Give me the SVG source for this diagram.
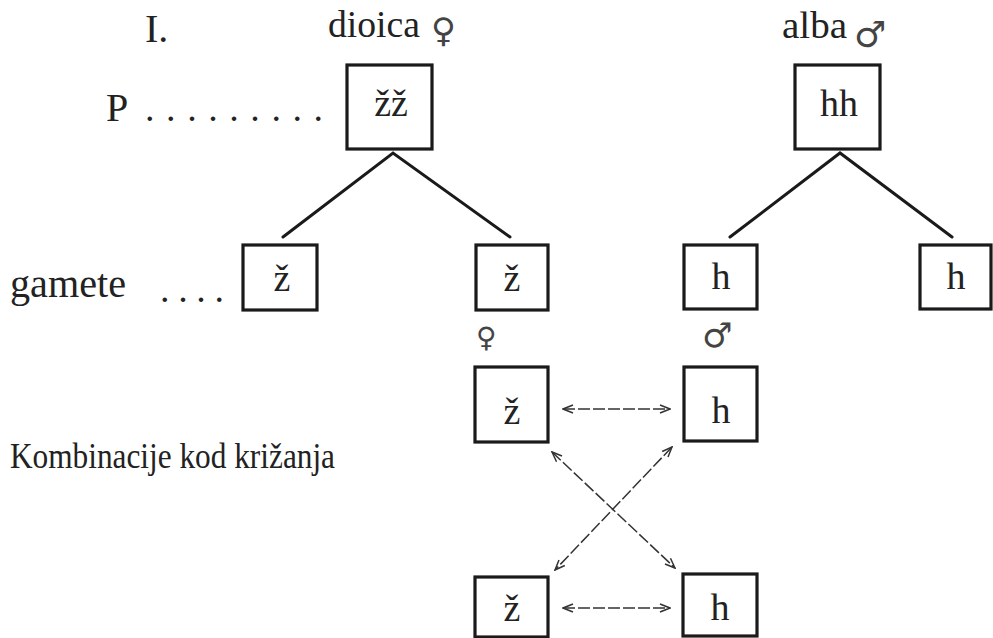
<svg xmlns="http://www.w3.org/2000/svg" width="993" height="638" viewBox="0 0 993 638">
<defs>
<style>
.t{font-family:"Liberation Serif","DejaVu Serif",serif;fill:#222;}
.bx{fill:none;stroke:#1a1a1a;stroke-width:3.2;}
.sym{font-family:"DejaVu Sans",sans-serif;fill:#444;}
.ln{stroke:#1a1a1a;stroke-width:3;fill:none;stroke-linecap:round;}
.ar{stroke:#333;stroke-width:1.5;fill:none;stroke-dasharray:12 3;marker-start:url(#ah);marker-end:url(#ah);}
</style>
<marker id="ah" viewBox="0 0 12 10" refX="11" refY="5" markerWidth="12" markerHeight="10" markerUnits="userSpaceOnUse" orient="auto-start-reverse">
<path d="M1,1 L11,5 L1,9" fill="none" stroke="#333" stroke-width="1.5"/>
</marker>
</defs>
<rect width="993" height="638" fill="#fff"/>
<g id="labels">
<text class="t" x="145" y="42" font-size="40">I.</text>
<text class="t" x="106" y="121" font-size="40">P</text>
<text class="t" x="145" y="121" font-size="38" textLength="178" lengthAdjust="spacing">. . . . . . . . .</text>
<text class="t" x="328" y="37" font-size="38" textLength="92" lengthAdjust="spacingAndGlyphs">dioica</text>
<text class="sym" x="431" y="42" font-size="34">♀</text>
<text class="t" x="782" y="38" font-size="38" textLength="65" lengthAdjust="spacingAndGlyphs">alba</text>
<text class="sym" x="854" y="47" font-size="36">♂</text>
<text class="t" x="10" y="297" font-size="40" textLength="116" lengthAdjust="spacingAndGlyphs">gamete</text>
<text class="t" x="160" y="302" font-size="38" textLength="64" lengthAdjust="spacing">. . . .</text>
<text class="sym" x="476" y="347" font-size="28">♀</text>
<text class="sym" x="702" y="347" font-size="34">♂</text>
<text class="t" x="10" y="468" font-size="35" textLength="325" lengthAdjust="spacingAndGlyphs">Kombinacije kod križanja</text>
</g>
<g id="node-P-zz">
<rect class="bx" x="347" y="65" width="85" height="84"/>
<text class="t" x="391" y="116" font-size="38" text-anchor="middle">žž</text>
</g>
<g id="node-P-hh">
<rect class="bx" x="795" y="65" width="85" height="84"/>
<text class="t" x="839" y="116" font-size="38" text-anchor="middle">hh</text>
</g>
<g id="node-g-z1">
<rect class="bx" x="243" y="245" width="74" height="65"/>
<text class="t" x="282" y="291" font-size="38" text-anchor="middle">ž</text>
</g>
<g id="node-g-z2">
<rect class="bx" x="476" y="245" width="72" height="65"/>
<text class="t" x="512" y="291" font-size="38" text-anchor="middle">ž</text>
</g>
<g id="node-g-h1">
<rect class="bx" x="684" y="245" width="73" height="64"/>
<text class="t" x="721" y="289" font-size="38" text-anchor="middle">h</text>
</g>
<g id="node-g-h2">
<rect class="bx" x="920" y="245" width="71" height="64"/>
<text class="t" x="956" y="289" font-size="38" text-anchor="middle">h</text>
</g>
<g id="node-c-z1">
<rect class="bx" x="475" y="367" width="73" height="75"/>
<text class="t" x="512" y="424" font-size="38" text-anchor="middle">ž</text>
</g>
<g id="node-c-h1">
<rect class="bx" x="684" y="367" width="73" height="74"/>
<text class="t" x="721" y="423" font-size="38" text-anchor="middle">h</text>
</g>
<g id="node-c-z2">
<rect class="bx" x="475" y="577" width="73" height="60"/>
<text class="t" x="512" y="621" font-size="38" text-anchor="middle">ž</text>
</g>
<g id="node-c-h2">
<rect class="bx" x="683" y="574" width="74" height="62"/>
<text class="t" x="720" y="620" font-size="38" text-anchor="middle">h</text>
</g>
<g id="connectors">
<path class="ln" d="M283,237 L393,153 L510,237"/>
<path class="ln" d="M730,237 L840,153 L952,237"/>
<line class="ar" x1="563" y1="409" x2="670" y2="409"/>
<line class="ar" x1="563" y1="608" x2="670" y2="608"/>
<line class="ar" x1="552" y1="452" x2="675" y2="568"/>
<line class="ar" x1="672" y1="447" x2="555" y2="570"/>
</g>
</svg>
